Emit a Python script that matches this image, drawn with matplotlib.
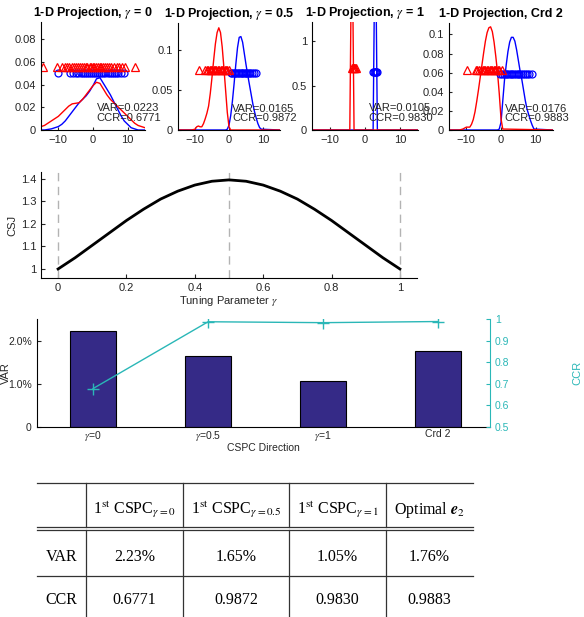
import numpy as np
import matplotlib
matplotlib.use('Agg')
from matplotlib import pyplot as plt
from matplotlib import transforms

plt.rcParams['font.family'] = ['Liberation Sans', 'DejaVu Sans']
plt.rcParams['mathtext.fontset'] = 'stix'
plt.rcParams['xtick.direction'] = 'in'
plt.rcParams['ytick.direction'] = 'in'
plt.rcParams['xtick.major.size'] = 3
plt.rcParams['ytick.major.size'] = 3
plt.rcParams['axes.linewidth'] = 0.8

# ---- data ----
titles = [r'1-D Projection, $\gamma$ = 0', r'1-D Projection, $\gamma$ = 0.5',
          r'1-D Projection, $\gamma$ = 1', '1-D Projection, Crd 2']
var_vals = [0.0223, 0.0165, 0.0105, 0.0176]
ccr_vals = [0.6771, 0.9872, 0.9830, 0.9883]

# panel 1 densities
p1_x = list(range(-15, 16))
p1_red = [0.003, 0.004, 0.006, 0.008, 0.010, 0.012, 0.015, 0.018, 0.021, 0.023,
          0.0235, 0.024, 0.027, 0.031, 0.035, 0.039, 0.042, 0.041, 0.036, 0.031,
          0.027, 0.024, 0.021, 0.018, 0.015, 0.012, 0.009, 0.006, 0.004, 0.003, 0.002]
p1_blue = [0, 0, 0.0005, 0.001, 0.002, 0.003, 0.005, 0.008, 0.012, 0.016,
           0.020, 0.024, 0.027, 0.030, 0.034, 0.039, 0.045, 0.046, 0.041, 0.036,
           0.031, 0.025, 0.019, 0.013, 0.008, 0.005, 0.002, 0.001, 0, 0, 0]
# panel 2 densities
p2_red_x = [-15, -11, -10, -9.5, -9, -8.5, -8, -7.5, -7, -6.5, -6, -5.5, -5, -4.5,
            -4, -3.5, -3, -2.5, -2, -1.5, -1, -0.5, 0, 0.5, 15]
p2_red = [0, 0, 0.001, 0.004, 0.005, 0.004, 0.004, 0.008, 0.014, 0.021, 0.030,
          0.046, 0.066, 0.088, 0.108, 0.122, 0.128, 0.122, 0.104, 0.078, 0.050,
          0.022, 0.004, 0, 0]
p2_blue_x = [-15, -1, -0.5, 0, 0.5, 1, 1.5, 2, 2.5, 3, 3.5, 4, 4.5, 5, 5.5, 6,
             6.5, 7, 7.5, 8, 8.5, 9, 9.5, 15]
p2_blue = [0, 0, 0.001, 0.006, 0.018, 0.036, 0.058, 0.082, 0.103, 0.116, 0.117,
           0.110, 0.096, 0.082, 0.069, 0.057, 0.045, 0.033, 0.023, 0.015, 0.008,
           0.003, 0.001, 0]
# panel 3 densities (very narrow)
p3_red_x = [-15, -4.3, -3.7, -3.1, 15]
p3_red = [0, 0, 2.5, 0, 0]
p3_blue_x = [-15, 2.3, 2.9, 3.5, 15]
p3_blue = [0, 0, 2.5, 0, 0]
# panel 4 densities
p4_red_x = [-15, -12, -11, -10.5, -10, -9.5, -9, -8.5, -8, -7.5, -7, -6.5, -6,
            -5.5, -5, -4.5, -4, -3.5, -3, -2.5, -2, -1.5, -1, -0.5, 0, 0.5, 15]
p4_red = [0, 0, 0.001, 0.002, 0.003, 0.003, 0.003, 0.006, 0.011, 0.019, 0.030,
          0.042, 0.055, 0.068, 0.081, 0.093, 0.102, 0.107, 0.108, 0.103, 0.092,
          0.077, 0.060, 0.038, 0.012, 0.001, 0]
p4_blue_x = [-15, -1, -0.5, 0, 0.5, 1, 1.5, 2, 2.5, 3, 3.5, 4, 4.5, 5, 5.5, 6,
             6.5, 7, 7.5, 8, 8.5, 9, 9.5, 15]
p4_blue = [0, 0, 0.001, 0.008, 0.030, 0.052, 0.068, 0.082, 0.092, 0.097, 0.097,
           0.093, 0.084, 0.073, 0.062, 0.053, 0.042, 0.031, 0.022, 0.016, 0.010,
           0.005, 0.001, 0]

# projected samples (markers)
p1_tri = [-14.5, -10.5, -9, -8.2, -7.5, -6.8, -6.2, -5.5, -5, -4.4, -3.8, -3.2,
          -2.7, -2.1, -1.6, -1.0, -0.5, 0, 0.4, 0.9, 1.4, 1.9, 2.4, 3.0, 3.5,
          4.1, 4.7, 5.3, 6.0, 6.8, 7.6, 8.5, 9.3, 12.0]
p1_circ = [-10, -6.5, -5.8, -5, -4.3, -3.6, -3, -2.4, -1.8, -1.2, -0.6, 0, 0.6,
           1.2, 1.8, 2.4, 3, 3.6, 4.2, 4.8, 5.4, 6, 6.6, 7.2, 8, 8.8]
p2_tri = [-8.8, -7, -6.5, -6.1, -5.7, -5.3, -4.9, -4.5, -4.1, -3.7, -3.3, -2.9,
          -2.5, -2.1, -1.7, -1.3, -0.9, -0.5, -0.1]
p2_circ = [0.6, 1.0, 1.4, 1.8, 2.2, 2.6, 3.0, 3.4, 3.8, 4.2, 4.6, 5.0, 5.4, 5.8,
           6.3, 6.8, 7.4, 7.9]
p3_tri = [-3.6, -3.4, -3.2, -3.0, -2.8, -2.6]
p3_circ = [2.4, 2.6, 2.8, 3.0, 3.2, 3.4]
p4_tri = [-9.8, -7.3, -6.8, -6.3, -5.8, -5.3, -4.9, -4.5, -4.1, -3.7, -3.3, -2.9,
          -2.5, -2.1, -1.7, -1.3, -0.9, -0.5, 0.2]
p4_circ = [-0.3, 0.3, 0.8, 1.3, 1.8, 2.3, 2.8, 3.3, 3.8, 4.3, 4.8, 5.3, 5.8, 6.3,
           6.8, 7.4, 8.0, 8.8]
tri_level = [0.055, 0.075, 0.70, 0.063]
circ_level = [0.050, 0.071, 0.65, 0.059]

# CSJ curve
gamma = [0, 0.05, 0.1, 0.15, 0.2, 0.25, 0.3, 0.35, 0.4, 0.45, 0.5,
         0.55, 0.6, 0.65, 0.7, 0.75, 0.8, 0.85, 0.9, 0.95, 1.0]
csj = [1.0, 1.05, 1.105, 1.16, 1.215, 1.265, 1.31, 1.345, 1.372, 1.389, 1.395,
       1.389, 1.372, 1.345, 1.31, 1.265, 1.215, 1.16, 1.105, 1.05, 1.0]
gamma_marks = [0, 0.5, 1]

# bar chart
directions = [r'$\gamma$=0', r'$\gamma$=0.5', r'$\gamma$=1', 'Crd 2']

# table
col_heads = [r'1$^{\mathrm{st}}$ CSPC$_{\gamma=0}$', r'1$^{\mathrm{st}}$ CSPC$_{\gamma=0.5}$',
             r'1$^{\mathrm{st}}$ CSPC$_{\gamma=1}$', r'Optimal $\mathbfit{e}_2$']
row_heads = ['VAR', 'CCR']

W, H = 584, 617
fig = plt.figure(figsize=(W / 100, H / 100), dpi=100)


def px_axes(left, top, right, bottom):
    return fig.add_axes([left / W, 1 - bottom / H, (right - left) / W, (bottom - top) / H])


TXT = '#262626'
CYAN = '#2ab7b7'

boxes = [(41, 22, 145, 130), (178, 23, 280, 130), (312, 22, 418, 130), (449, 23, 553, 130)]
ylims = [0.095, 0.134, 1.22, 0.112]
yticks = [[0, 0.02, 0.04, 0.06, 0.08], [0, 0.05, 0.1], [0, 0.5, 1],
          [0, 0.02, 0.04, 0.06, 0.08, 0.1]]
curves = [(p1_x, p1_red, p1_x, p1_blue), (p2_red_x, p2_red, p2_blue_x, p2_blue),
          (p3_red_x, p3_red, p3_blue_x, p3_blue), (p4_red_x, p4_red, p4_blue_x, p4_blue)]
marks = [(p1_tri, p1_circ), (p2_tri, p2_circ), (p3_tri, p3_circ), (p4_tri, p4_circ)]

for i in range(4):
    ax = px_axes(*boxes[i])
    rx, ry, bx, by = curves[i]
    ax.plot(bx, by, color='b', lw=1)
    ax.plot(rx, ry, color='r', lw=1)
    tri, circ = marks[i]
    ax.plot(circ, [circ_level[i]] * len(circ), 'o', mfc='none', mec='b', ms=5, mew=0.9)
    ax.plot(tri, [tri_level[i]] * len(tri), '^', mfc='none', mec='r', ms=5.5, mew=0.9)
    ax.set_xlim(-15, 15)
    ax.set_ylim(0, ylims[i])
    ax.set_xticks([-10, 0, 10])
    ax.set_yticks(yticks[i])
    ax.set_yticklabels(['0' if t == 0 else '{:g}'.format(t) for t in yticks[i]])
    ax.tick_params(labelsize=8, colors=TXT, length=2.5)
    ax.spines['top'].set_visible(False)
    ax.spines['right'].set_visible(False)
    ax.set_title(titles[i], fontsize=9, fontweight='bold', pad=4)
    tr = transforms.blended_transform_factory(ax.transData, ax.transAxes)
    ax.text(1, 0.20, 'VAR={:.4f}'.format(var_vals[i]), transform=tr,
            fontsize=8, va='center', ha='left', color=TXT, clip_on=False, zorder=5)
    ax.text(1, 0.11, 'CCR={:.4f}'.format(ccr_vals[i]), transform=tr,
            fontsize=8, va='center', ha='left', color=TXT, clip_on=False, zorder=5)

# CSJ panel
ax = px_axes(41, 172, 417, 278)
for g in gamma_marks:
    ax.axvline(g, color='#b3b3b3', lw=1, ls=(0, (6, 4)))
ax.plot(gamma, csj, color='k', lw=2)
ax.set_xlim(-0.05, 1.05)
ax.set_ylim(0.96, 1.43)
ax.set_xticks([0, 0.2, 0.4, 0.6, 0.8, 1])
ax.set_xticklabels(['0', '0.2', '0.4', '0.6', '0.8', '1'])
ax.set_yticks([1, 1.1, 1.2, 1.3, 1.4])
ax.set_yticklabels(['1', '1.1', '1.2', '1.3', '1.4'])
ax.tick_params(labelsize=8, colors=TXT, length=3)
ax.spines['top'].set_visible(False)
ax.spines['right'].set_visible(False)
ax.set_xlabel(r'Tuning Parameter $\gamma$', fontsize=8, color=TXT, labelpad=1)
ax.set_ylabel('CSJ', fontsize=8, color=TXT)
ax.yaxis.set_label_coords((17 - 41) / 376, 0.5)

# bar + CCR panel
ax = px_axes(36.7, 319, 490, 426.7)
pos = np.arange(1, len(directions) + 1)
ax.bar(pos, np.array(var_vals) * 100, width=0.4, color='#352a87', edgecolor='k', lw=0.8)
ax.set_xlim(0.51, 4.45)
ax.set_ylim(0, 2.5)
ax.set_xticks(pos)
ax.set_xticklabels(directions)
ax.set_yticks([0, 1, 2])
ax.set_yticklabels(['0', '1.0%', '2.0%'])
ax.tick_params(labelsize=7.5, colors=TXT, length=3)
ax.tick_params(axis='x', length=0, pad=2)
ax.spines['top'].set_visible(False)
ax.spines['right'].set_visible(False)
ax.set_xlabel('CSPC Direction', fontsize=7.5, color=TXT, labelpad=0)
ax.set_ylabel('VAR', fontsize=8, color=TXT)
ax.yaxis.set_label_coords((11 - 36.7) / 453.3, 0.5)
ax2 = ax.twinx()
ax2.plot(pos, ccr_vals, color=CYAN, lw=1, marker='+', ms=8, mew=1)
ax2.set_ylim(0.5, 1.0)
ax2.set_yticks([0.5, 0.6, 0.7, 0.8, 0.9, 1])
ax2.set_yticklabels(['0.5', '0.6', '0.7', '0.8', '0.9', '1'])
ax2.tick_params(labelsize=7.5, colors=CYAN, length=3)
for s in ['top', 'left', 'bottom']:
    ax2.spines[s].set_visible(False)
ax2.spines['right'].set_color(CYAN)
ax2.set_ylabel('CCR', fontsize=8, color=CYAN)
ax2.yaxis.set_label_coords((572 - 36.7) / 453.3, 0.5)

# table
tb = fig.add_axes([0, 0, 1, 1])
tb.set_xlim(0, W)
tb.set_ylim(H, 0)
tb.axis('off')
LC = '#333333'
x0, x1 = 37, 473
for y in [483, 527, 530, 576]:
    tb.plot([x0, x1], [y, y], color=LC, lw=0.9)
for x in [86, 183, 289, 386]:
    tb.plot([x, x], [483, 527], color=LC, lw=0.9)
    tb.plot([x, x], [530, 617], color=LC, lw=0.9)
col_x = [134.5, 236, 337.5, 429.5]
serif = ['Liberation Serif', 'DejaVu Serif']
for cx, h in zip(col_x, col_heads):
    tb.text(cx, 510, h, ha='center', va='center', fontsize=11.5, family=serif)
row_vals = [['{:.2f}%'.format(v * 100) for v in var_vals],
            ['{:.4f}'.format(v) for v in ccr_vals]]
for ry, rh, vals in zip([557, 600], row_heads, row_vals):
    tb.text(61.5, ry, rh, ha='center', va='center', fontsize=11.5, family=serif)
    for cx, v in zip(col_x, vals):
        tb.text(cx, ry, v, ha='center', va='center', fontsize=11.5, family=serif)

fig.savefig('out.png', dpi=100, facecolor='white')
